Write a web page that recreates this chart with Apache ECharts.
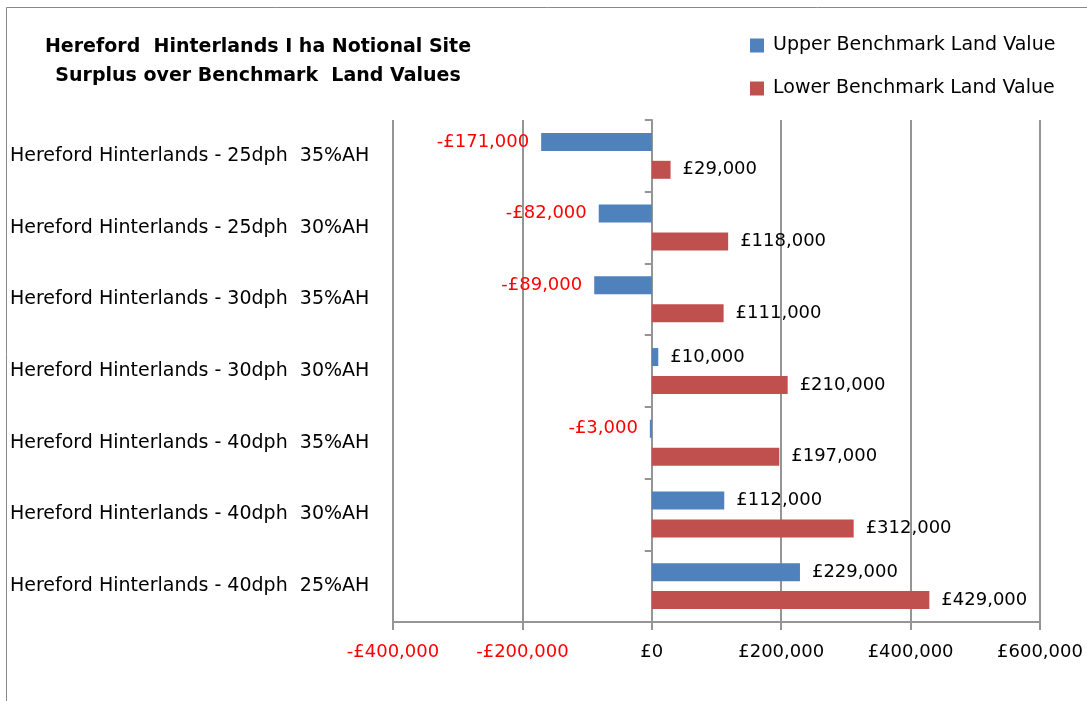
<!DOCTYPE html>
<html>
<head>
<meta charset="utf-8">
<script src="https://cdn.jsdelivr.net/npm/echarts@6/dist/echarts.min.js"></script>
<style>
html,body{margin:0;padding:0;background:#fff;}
#c{width:1087px;height:701px;}
</style>
</head>
<body>
<div id="c"></div>
<script>
var categories = [
  'Hereford Hinterlands - 25dph  35%AH',
  'Hereford Hinterlands - 25dph  30%AH',
  'Hereford Hinterlands - 30dph  35%AH',
  'Hereford Hinterlands - 30dph  30%AH',
  'Hereford Hinterlands - 40dph  35%AH',
  'Hereford Hinterlands - 40dph  30%AH',
  'Hereford Hinterlands - 40dph  25%AH'
];
var upperValues = [-171000, -82000, -89000, 10000, -3000, 112000, 229000];
var lowerValues = [29000, 118000, 111000, 210000, 197000, 312000, 429000];
var xTicks = {min: -400000, max: 600000, interval: 200000};

var FONT = 'DejaVu Sans';
var LINE = '#959595';
function money(v) {
  var s = Math.abs(v).toString().replace(/\B(?=(\d{3})+(?!\d))/g, ',');
  return (v < 0 ? '-£' : '£') + s;
}
function buildData(vals) {
  return vals.map(function (v) {
    return {
      value: v,
      label: {
        position: v < 0 ? 'left' : 'right',
        color: v < 0 ? '#FF0000' : '#000000'
      }
    };
  });
}

var chart = echarts.init(document.getElementById('c'));
chart.setOption({
  animation: false,
  title: {
    text: 'Hereford  Hinterlands I ha Notional Site\nSurplus over Benchmark  Land Values',
    left: 253,
    top: 28,
    textAlign: 'center',
    textStyle: {fontFamily: FONT, fontSize: 19, fontWeight: 'bold', color: '#000', lineHeight: 29}
  },
  legend: {
    orient: 'vertical',
    left: 745,
    top: 31,
    itemWidth: 14,
    itemHeight: 14,
    itemGap: 24,
    icon: 'rect',
    textStyle: {fontFamily: FONT, fontSize: 19, color: '#000', padding: [0, 0, 0, 4]},
    data: ['Upper Benchmark Land Value', 'Lower Benchmark Land Value']
  },
  graphic: [{
    type: 'rect',
    shape: {x: 6.5, y: 7.5, width: 1200, height: 800},
    style: {fill: 'none', stroke: '#898989', lineWidth: 1},
    silent: true
  }],
  grid: {left: 393, right: 47, top: 120, bottom: 79, containLabel: false, outerBoundsMode: 'none'},
  xAxis: {
    type: 'value',
    min: xTicks.min,
    max: xTicks.max,
    interval: xTicks.interval,
    axisLine: {show: true, lineStyle: {color: LINE, width: 2}},
    axisTick: {show: true, length: 8, lineStyle: {color: LINE, width: 2}},
    splitLine: {show: true, lineStyle: {color: LINE, width: 2}},
    axisLabel: {
      fontFamily: FONT, fontSize: 18, margin: 21, hideOverlap: false,
      formatter: function (v) { return money(v); },
      color: function (v) { return Number(v) < 0 ? '#FF0000' : '#000000'; }
    }
  },
  yAxis: [{
    type: 'category',
    inverse: true,
    data: categories,
    axisLine: {show: true, onZero: true, lineStyle: {color: LINE, width: 2}},
    axisTick: {show: true, length: 7, lineStyle: {color: LINE, width: 2}},
    splitLine: {show: false},
    axisLabel: {show: false}
  }, {
    type: 'category',
    inverse: true,
    position: 'left',
    data: categories,
    axisLine: {show: false, onZero: false},
    axisTick: {show: false},
    splitLine: {show: false},
    axisLabel: {fontFamily: FONT, fontSize: 19, color: '#000', align: 'left', margin: 383, width: 380, overflow: 'none'}
  }],
  series: [{
    name: 'Upper Benchmark Land Value',
    type: 'bar',
    yAxisIndex: 0,
    data: buildData(upperValues),
    barWidth: 18,
    barGap: '55%',
    itemStyle: {color: '#4F81BD'},
    label: {show: true, fontFamily: FONT, fontSize: 18, distance: 12, formatter: function (p) { return money(p.value); }}
  }, {
    name: 'Lower Benchmark Land Value',
    type: 'bar',
    yAxisIndex: 0,
    data: buildData(lowerValues),
    barWidth: 18,
    barGap: '55%',
    itemStyle: {color: '#C0504D'},
    label: {show: true, fontFamily: FONT, fontSize: 18, distance: 12, formatter: function (p) { return money(p.value); }}
  }]
});
</script>
</body>
</html>
